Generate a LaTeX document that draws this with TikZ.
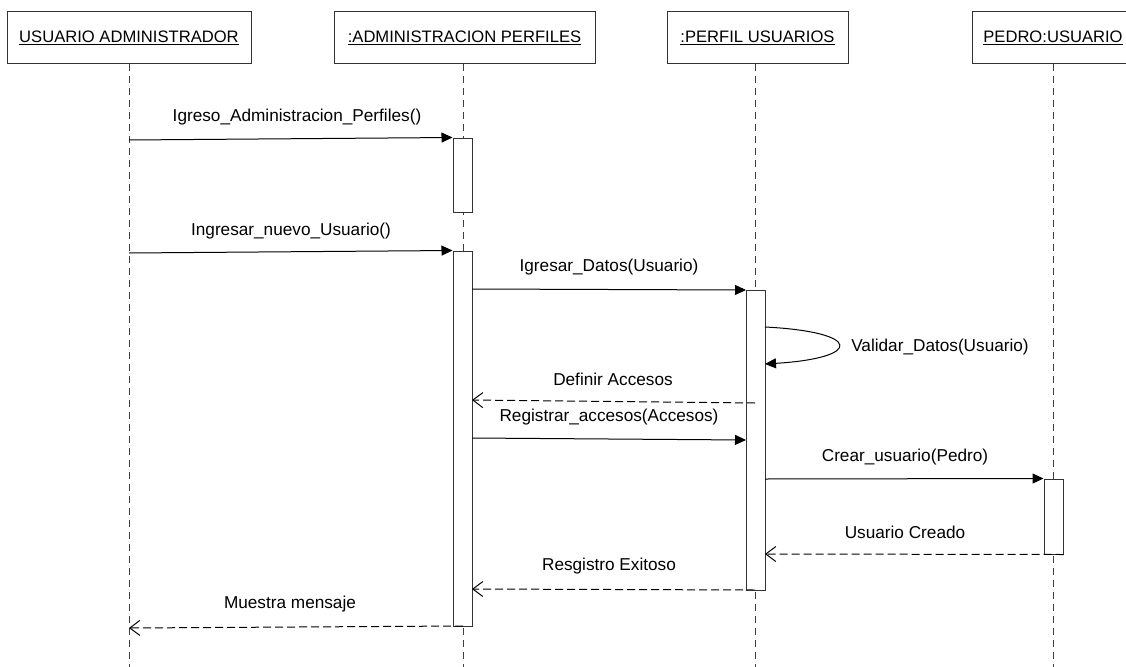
\documentclass[tikz,border=0pt]{standalone}
\usepackage{fontspec}
\setmainfont{Liberation Sans}
\usetikzlibrary{arrows.meta}
\tikzset{
  hdr/.style={draw=black!80, line width=1pt, fill=white, minimum height=52pt, inner sep=0pt, font=\fontsize{16.6}{19}\selectfont},
  bar/.style={draw=black!80, line width=1pt, fill=white, minimum width=19pt, inner sep=0pt},
  life/.style={line width=0.9pt, dash pattern=on 7pt off 5pt, black!75},
  call/.style={line width=1pt, -{Triangle[length=11pt,width=10pt]}},
  ret/.style={line width=1pt, black, dash pattern=on 8pt off 4pt, -{Straight Barb[length=10pt,width=15pt]}},
  lbl/.style={font=\fontsize{17.2}{20}\selectfont, inner sep=0pt}
}
\begin{document}
\begin{tikzpicture}[x=1pt,y=-1pt]
\clip (0,0) rectangle (1126,666);
\fill[white] (0,0) rectangle (1126,666);
% headers
\node[hdr, minimum width=244pt] (h1) at (129,38) {\underline{USUARIO ADMINISTRADOR}};
\node[hdr, minimum width=261pt] (h2) at (464.5,38) {\underline{:ADMINISTRACION PERFILES}};
\node[hdr, minimum width=181pt] (h3) at (757.5,38) {\underline{:PERFIL USUARIOS}};
\node[hdr, minimum width=162pt] (h4) at (1053,38) {\underline{PEDRO:USUARIO}};
% lifeline ends
\coordinate (e1) at (129,670);
\coordinate (e2) at (463,670);
\coordinate (e3) at (755,670);
\coordinate (e4) at (1053,670);
\draw[life] (129,64) -- (e1);
\draw[life] (463,64) -- (e2);
\draw[life] (755,64) -- (e3);
\draw[life] (1053,64) -- (e4);
% activation bars
\node[bar, minimum height=74pt] (a1) at (462.5,175) {};
\node[bar, minimum height=375pt] (a2) at (462.5,438.5) {};
\node[bar, minimum height=300pt] (a3) at (755.5,440) {};
\node[bar, minimum height=75pt] (a4) at (1053.5,516.5) {};
% message endpoints
\coordinate (s1) at (129,140);
\coordinate (s2) at (129,253);
\coordinate (s3) at (472,289);
\coordinate (t3) at (746,290);
\coordinate (s4) at (765,327);
\coordinate (t4) at (765,364);
\coordinate (s5) at (755,403);
\coordinate (t5) at (472,400);
\coordinate (s6) at (472,438);
\coordinate (t6) at (746,440);
\coordinate (s7) at (765,479);
\coordinate (t8) at (765,554);
\coordinate (s9) at (755,590);
\coordinate (t9) at (472,589);
\coordinate (s10) at (463,626);
\coordinate (t10) at (129,628);
% messages
\draw[call] (s1) -- (a1.north west);
\node[lbl] (l1) at (297,117) {Igreso\_Administracion\_Perfiles()};
\draw[call] (s2) -- (a2.north west);
\node[lbl] (l2) at (291,231) {Ingresar\_nuevo\_Usuario()};
\draw[call] (s3) -- (t3);
\node[lbl] (l3) at (609,267) {Igresar\_Datos(Usuario)};
\draw[call] (s4) .. controls (863,332) and (863,358) .. (t4);
\node[lbl] (l4) at (940,347) {Validar\_Datos(Usuario)};
\draw[ret] (s5) -- (t5);
\node[lbl] (l5) at (613,379) {Definir Accesos};
\draw[call] (s6) -- (t6);
\node[lbl] (l6) at (609,417) {Registrar\_accesos(Accesos)};
\draw[call] (s7) -- (a4.north west);
\node[lbl] (l7) at (905,457) {Crear\_usuario(Pedro)};
\draw[ret] (a4.south east) -- (t8);
\node[lbl] (l8) at (905,532) {Usuario Creado};
\draw[ret] (s9) -- (t9);
\node[lbl] (l9) at (609,566) {Resgistro Exitoso};
\draw[ret] (s10) -- (t10);
\node[lbl] (l10) at (290,604) {Muestra mensaje};
% redraw bottom edge of bar 3 over return line
\draw[black!80, line width=1pt] (a3.south west) -- (a3.south east);
\end{tikzpicture}
\end{document}
